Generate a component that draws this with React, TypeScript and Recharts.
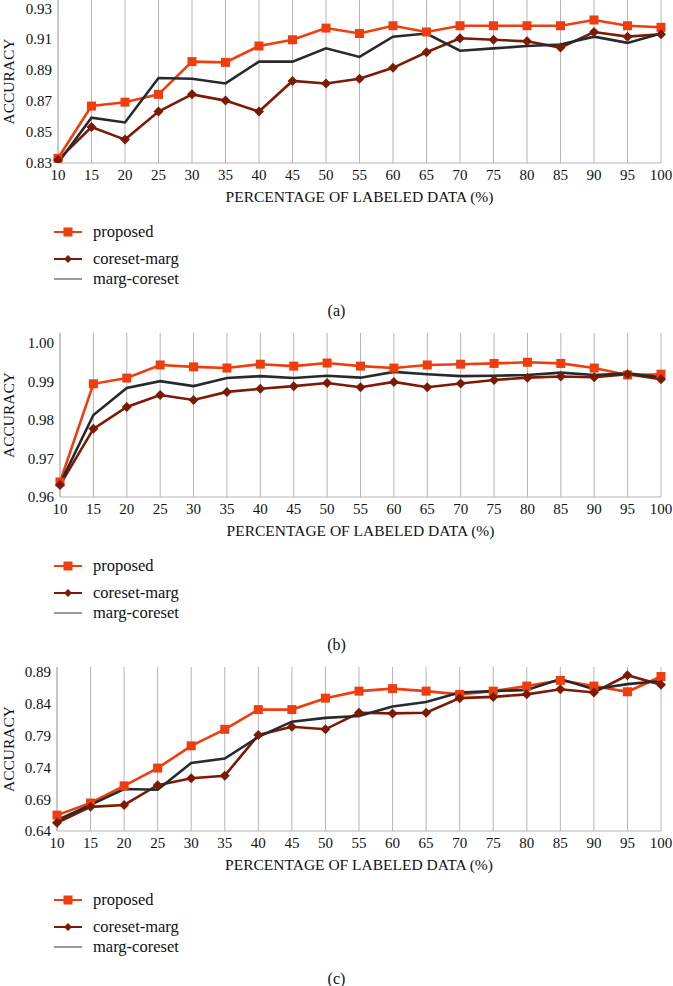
import React from "react";
import { LineChart, Line, XAxis, YAxis, CartesianGrid, Legend } from "recharts";

// shared x categories (% of labeled data)
const pct = [10, 15, 20, 25, 30, 35, 40, 45, 50, 55, 60, 65, 70, 75, 80, 85, 90, 95, 100];

// (a)
const aProposed = [0.833, 0.8665, 0.869, 0.874, 0.895, 0.8945, 0.905, 0.909, 0.9165, 0.913, 0.918, 0.914, 0.918, 0.918, 0.918, 0.918, 0.9217, 0.918, 0.917];
const aCoresetMarg = [0.832, 0.853, 0.845, 0.863, 0.874, 0.87, 0.863, 0.8826, 0.881, 0.884, 0.891, 0.901, 0.91, 0.909, 0.908, 0.904, 0.914, 0.911, 0.9125];
const aMargCoreset = [0.83, 0.859, 0.856, 0.8845, 0.884, 0.881, 0.895, 0.895, 0.9035, 0.898, 0.911, 0.913, 0.902, 0.9035, 0.905, 0.906, 0.911, 0.907, 0.913];
const aTicks = [0.83, 0.85, 0.87, 0.89, 0.91, 0.93];

// (b)
const bProposed = [0.9639, 0.9894, 0.9909, 0.9943, 0.9938, 0.9935, 0.9945, 0.994, 0.9948, 0.994, 0.9935, 0.9943, 0.9945, 0.9947, 0.995, 0.9947, 0.9935, 0.9917, 0.9919];
const bCoresetMarg = [0.9631, 0.9777, 0.9834, 0.9865, 0.9852, 0.9873, 0.9881, 0.9888, 0.9896, 0.9885, 0.9899, 0.9885, 0.9895, 0.9904, 0.991, 0.9913, 0.9911, 0.9919, 0.9906];
const bMargCoreset = [0.9634, 0.9813, 0.9883, 0.9901, 0.9888, 0.9909, 0.9914, 0.9909, 0.9915, 0.991, 0.9925, 0.9919, 0.9914, 0.9915, 0.9917, 0.9923, 0.9917, 0.9921, 0.9911];
const bTicks = [0.96, 0.97, 0.98, 0.99, 1.0];

// (c)
const cProposed = [0.665, 0.684, 0.711, 0.739, 0.774, 0.8, 0.831, 0.831, 0.849, 0.86, 0.864, 0.86, 0.855, 0.86, 0.868, 0.877, 0.868, 0.859, 0.883];
const cCoresetMarg = [0.653, 0.678, 0.681, 0.712, 0.723, 0.727, 0.791, 0.804, 0.8, 0.826, 0.825, 0.826, 0.849, 0.851, 0.855, 0.863, 0.858, 0.885, 0.87];
const cMargCoreset = [0.657, 0.681, 0.706, 0.705, 0.747, 0.754, 0.788, 0.812, 0.818, 0.821, 0.836, 0.843, 0.858, 0.86, 0.862, 0.879, 0.863, 0.871, 0.876];
const cTicks = [0.64, 0.69, 0.74, 0.79, 0.84, 0.89];

const ORANGE = "#ee3d0f";
const DARKRED = "#7c1a05";
const BLACK = "#262a2c";
const GRID = "#b5b5b5";
const FONT = "'Liberation Serif', 'DejaVu Serif', serif";

const Square = (p: any) => {
  if (p.cx == null || p.cy == null) return null;
  return <rect key={`s${p.index}`} x={p.cx - 4.5} y={p.cy - 4.5} width={9} height={9} fill={ORANGE} />;
};

const Diamond = (p: any) => {
  if (p.cx == null || p.cy == null) return null;
  const r = 5;
  return (
    <polygon
      key={`d${p.index}`}
      points={`${p.cx},${p.cy - r} ${p.cx + r},${p.cy} ${p.cx},${p.cy + r} ${p.cx - r},${p.cy}`}
      fill={DARKRED}
    />
  );
};

const LegendBox = () => {
  const rows = [
    { name: "proposed", color: ORANGE, mark: "square", top: 0 },
    { name: "coreset-marg", color: DARKRED, mark: "diamond", top: 27 },
    { name: "marg-coreset", color: "#555", mark: "none", top: 47 },
  ];
  return (
    <div style={{ position: "relative", height: 70, fontFamily: FONT, fontSize: 16.5, color: "#111" }}>
      {rows.map((r) => (
        <div key={r.name} style={{ position: "absolute", top: r.top, left: 0, height: 22, display: "flex", alignItems: "center" }}>
          <svg width={40} height={22} style={{ display: "block" }}>
            <line x1={0} x2={28} y1={11} y2={11} stroke={r.color} strokeWidth={r.mark === "none" ? 1.2 : 2} />
            {r.mark === "square" && <rect x={9.5} y={6.5} width={9} height={9} fill={r.color} />}
            {r.mark === "diamond" && <polygon points="14,7 18,11 14,15 10,11" fill={r.color} />}
          </svg>
          <span style={{ marginLeft: -1, whiteSpace: "nowrap", fontFamily: FONT }}>{r.name}</span>
        </div>
      ))}
    </div>
  );
};

type PanelProps = {
  top: number;
  plotTop: number;
  plotBottom: number;
  plotLeft: number;
  proposed: number[];
  coresetMarg: number[];
  margCoreset: number[];
  ticks: number[];
  domainMax: number;
  caption: string;
};

function Panel({ top, plotBottom, plotTop, plotLeft, proposed, coresetMarg, margCoreset, ticks, domainMax, caption }: PanelProps) {
  const data = pct.map((p, i) => ({ p, proposed: proposed[i], coresetMarg: coresetMarg[i], margCoreset: margCoreset[i] }));
  const H = 320;
  const xAxisH = 40;
  const pb = plotBottom - top;
  const pt = plotTop - top;
  return (
    <div style={{ position: "absolute", top, left: 0, width: 673, height: H, fontFamily: FONT }}>
      <LineChart width={673} height={H} data={data} margin={{ top: pt, right: 12, left: 0, bottom: H - pb - xAxisH }} style={{ fontFamily: FONT }}>
        <CartesianGrid horizontal={false} vertical stroke={GRID} strokeWidth={1} />
        <XAxis
          dataKey="p"
          type="number"
          domain={[10, 100]}
          ticks={pct}
          interval={0}
          height={xAxisH}
          stroke={GRID}
          tickLine={false}
          tickMargin={0}
          tick={{ fill: "#111", fontSize: 15, fontFamily: FONT }}
          label={{ value: "PERCENTAGE OF LABELED DATA (%)", position: "insideBottom", offset: 1, fill: "#111", fontSize: 15.5, fontFamily: FONT }}
        />
        <YAxis
          type="number"
          domain={[ticks[0], domainMax]}
          ticks={ticks}
          width={plotLeft}
          stroke={GRID}
          tickLine={false}
          tickMargin={0}
          allowDataOverflow
          tickFormatter={(v: number) => v.toFixed(2)}
          tick={{ fill: "#111", fontSize: 15, fontFamily: FONT }}
          label={{ value: "ACCURACY", angle: -90, position: "insideLeft", offset: 8, fill: "#111", fontSize: 15.5, fontFamily: FONT, style: { textAnchor: "middle" } }}
        />
        <Legend
          layout="horizontal"
          verticalAlign="middle"
          align="center"
          wrapperStyle={{ top: pb + 58, left: 54, width: 300 }}
          content={() => <LegendBox />}
        />
        <Line dataKey="proposed" name="proposed" stroke={ORANGE} strokeWidth={2.6} dot={Square} activeDot={false} isAnimationActive={false} />
        <Line dataKey="coresetMarg" name="coreset-marg" stroke={DARKRED} strokeWidth={2.6} dot={Diamond} activeDot={false} isAnimationActive={false} />
        <Line dataKey="margCoreset" name="marg-coreset" stroke={BLACK} strokeWidth={2.6} dot={false} activeDot={false} isAnimationActive={false} />
      </LineChart>
      <div style={{ position: "absolute", top: pb + 139, left: 0, width: 673, textAlign: "center", fontFamily: FONT, fontSize: 16, color: "#111" }}>
        {caption}
      </div>
    </div>
  );
}

export default function App() {
  return (
    <div style={{ position: "absolute", top: 0, left: 0, width: 673, height: 986, background: "#fff", overflow: "hidden", fontFamily: FONT }}>
      <Panel top={0} plotTop={0} plotBottom={163} plotLeft={58} proposed={aProposed} coresetMarg={aCoresetMarg} margCoreset={aMargCoreset} ticks={aTicks} domainMax={0.9345} caption="(a)" />
      <Panel top={325} plotTop={333} plotBottom={497} plotLeft={60} proposed={bProposed} coresetMarg={bCoresetMarg} margCoreset={bMargCoreset} ticks={bTicks} domainMax={1.0026} caption="(b)" />
      <Panel top={660} plotTop={667} plotBottom={831} plotLeft={57} proposed={cProposed} coresetMarg={cCoresetMarg} margCoreset={cMargCoreset} ticks={cTicks} domainMax={0.898} caption="(c)" />
    </div>
  );
}
